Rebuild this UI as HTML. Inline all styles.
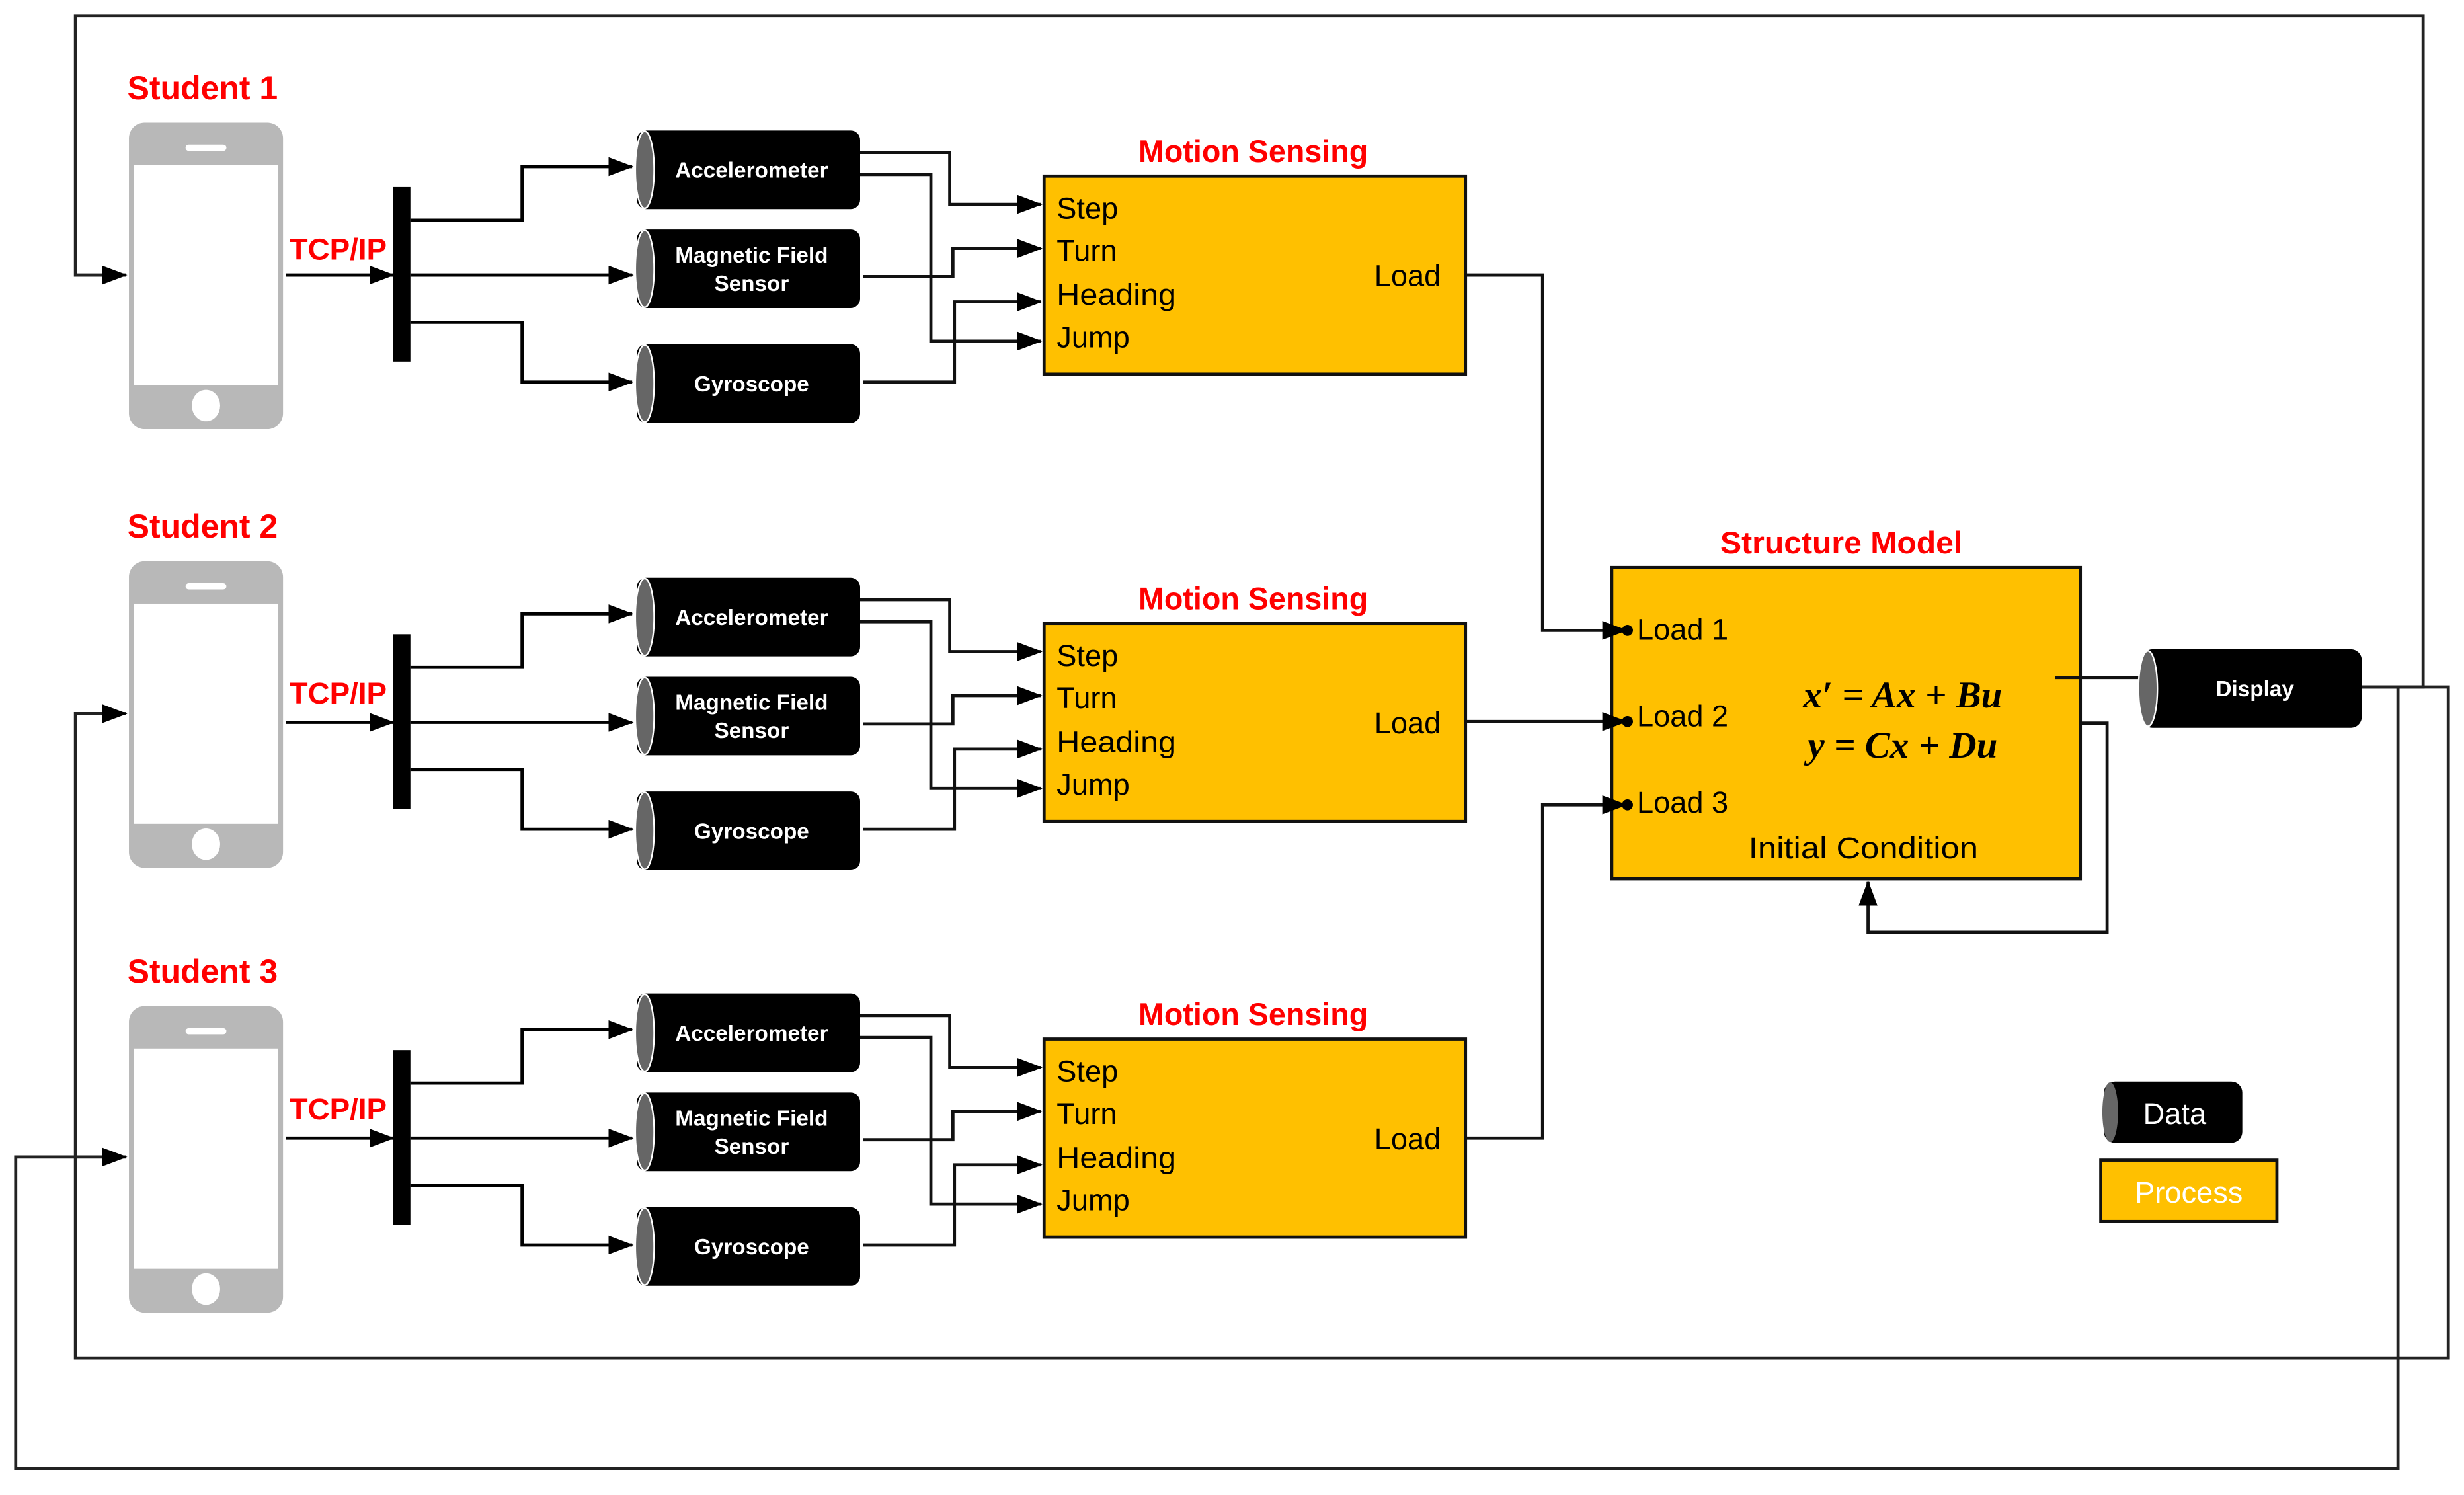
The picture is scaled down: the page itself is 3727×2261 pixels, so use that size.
<!DOCTYPE html>
<html><head><meta charset="utf-8"><style>
html,body{margin:0;padding:0;background:#fff;}
svg{display:block;}
text{font-family:"Liberation Sans",sans-serif;}
</style></head><body>
<svg width="3727" height="2261" viewBox="0 0 1567 951" preserveAspectRatio="none" xmlns="http://www.w3.org/2000/svg">
<defs>
<marker id="ar" markerWidth="16" markerHeight="12" refX="15" refY="6" orient="auto" markerUnits="userSpaceOnUse">
<path d="M0,0 L16,6 L0,12 z" fill="#000"/>
</marker>
<g id="phone">
<rect x="82" y="78" width="98" height="195" rx="10" fill="#b8b8b8"/>
<rect x="85" y="105" width="92" height="140" fill="#fff"/>
<rect x="118" y="92" width="26" height="4" rx="2" fill="#fff"/>
<ellipse cx="131" cy="258" rx="9" ry="10" fill="#fff"/>
</g>
<g id="cyl">
<rect x="405" y="0" width="142" height="50" rx="6" fill="#000"/>
<ellipse cx="410" cy="25" rx="6" ry="24.5" fill="#666" stroke="#fff" stroke-width="1"/>
</g>
</defs>
<g fill="none" stroke="#222" stroke-width="2">
<path d="M1502,437 H1541 V10 H48 V175 H80" marker-end="url(#ar)"/>
<path d="M1502,437 H1557 V864 H48 V454 H80" marker-end="url(#ar)"/>
<path d="M1525,437 V934 H10 V736 H80" marker-end="url(#ar)"/>
</g>

<g id="g1">
<use href="#phone"/>
<text x="81" y="63" font-size="21" font-weight="bold" fill="#f00">Student 1</text>
<text x="184" y="165" font-size="19" font-weight="bold" fill="#f00" textLength="62" lengthAdjust="spacingAndGlyphs">TCP/IP</text>
<rect x="250" y="119" width="11" height="111" fill="#000"/>
<g fill="none" stroke="#000" stroke-width="2">
<path d="M182,175 H250" marker-end="url(#ar)"/>
<path d="M261,140 H332 V106 H402" marker-end="url(#ar)"/>
<path d="M261,175 H402" marker-end="url(#ar)"/>
<path d="M261,205 H332 V243 H402" marker-end="url(#ar)"/>
</g>
</g>
<g transform="translate(0,0)">
<use href="#cyl" y="83"/><use href="#cyl" y="146"/><use href="#cyl" y="219"/>
<text x="478" y="113" font-size="14" font-weight="bold" fill="#fff" text-anchor="middle">Accelerometer</text>
<text x="478" y="167" font-size="14" font-weight="bold" fill="#fff" text-anchor="middle">Magnetic Field</text>
<text x="478" y="185" font-size="14" font-weight="bold" fill="#fff" text-anchor="middle">Sensor</text>
<text x="478" y="249" font-size="14" font-weight="bold" fill="#fff" text-anchor="middle">Gyroscope</text>
<rect x="664" y="112" width="268" height="126" fill="#ffc000" stroke="#111" stroke-width="2"/>
<text x="797" y="103" font-size="20" font-weight="bold" fill="#f00" text-anchor="middle" textLength="146" lengthAdjust="spacingAndGlyphs">Motion Sensing</text>
<g font-size="19" fill="#000">
<text x="672" y="139">Step</text><text x="672" y="166">Turn</text>
<text x="672" y="194" textLength="76" lengthAdjust="spacingAndGlyphs">Heading</text><text x="672" y="221">Jump</text>
<text x="874" y="182">Load</text>
</g>
<g fill="none" stroke="#111" stroke-width="2">
<path d="M547,97 H604 V130 H662" marker-end="url(#ar)"/>
<path d="M547,111 H592 V217 H662" marker-end="url(#ar)"/>
<path d="M549,176 H606 V158 H662" marker-end="url(#ar)"/>
<path d="M549,243 H607 V192 H662" marker-end="url(#ar)"/>
</g>
</g>

<g transform="translate(0,279)">
<use href="#phone"/>
<text x="81" y="63" font-size="21" font-weight="bold" fill="#f00">Student 2</text>
</g>
<g transform="translate(0,284.5)">
<text x="184" y="163" font-size="19" font-weight="bold" fill="#f00" textLength="62" lengthAdjust="spacingAndGlyphs">TCP/IP</text>
<rect x="250" y="119" width="11" height="111" fill="#000"/>
<g fill="none" stroke="#000" stroke-width="2">
<path d="M182,175 H250" marker-end="url(#ar)"/>
<path d="M261,140 H332 V106 H402" marker-end="url(#ar)"/>
<path d="M261,175 H402" marker-end="url(#ar)"/>
<path d="M261,205 H332 V243 H402" marker-end="url(#ar)"/>
</g>
<use href="#cyl" y="83"/><use href="#cyl" y="146"/><use href="#cyl" y="219"/>
<text x="478" y="113" font-size="14" font-weight="bold" fill="#fff" text-anchor="middle">Accelerometer</text>
<text x="478" y="167" font-size="14" font-weight="bold" fill="#fff" text-anchor="middle">Magnetic Field</text>
<text x="478" y="185" font-size="14" font-weight="bold" fill="#fff" text-anchor="middle">Sensor</text>
<text x="478" y="249" font-size="14" font-weight="bold" fill="#fff" text-anchor="middle">Gyroscope</text>
<rect x="664" y="112" width="268" height="126" fill="#ffc000" stroke="#111" stroke-width="2"/>
<text x="797" y="103" font-size="20" font-weight="bold" fill="#f00" text-anchor="middle" textLength="146" lengthAdjust="spacingAndGlyphs">Motion Sensing</text>
<g font-size="19" fill="#000">
<text x="672" y="139">Step</text><text x="672" y="166">Turn</text>
<text x="672" y="194" textLength="76" lengthAdjust="spacingAndGlyphs">Heading</text><text x="672" y="221">Jump</text>
<text x="874" y="182">Load</text>
</g>
<g fill="none" stroke="#111" stroke-width="2">
<path d="M547,97 H604 V130 H662" marker-end="url(#ar)"/>
<path d="M547,111 H592 V217 H662" marker-end="url(#ar)"/>
<path d="M549,176 H606 V158 H662" marker-end="url(#ar)"/>
<path d="M549,243 H607 V192 H662" marker-end="url(#ar)"/>
</g>
</g>

<g transform="translate(0,562)">
<use href="#phone"/>
<text x="81" y="63" font-size="21" font-weight="bold" fill="#f00">Student 3</text>
</g>
<g transform="translate(0,549)">
<text x="184" y="163" font-size="19" font-weight="bold" fill="#f00" textLength="62" lengthAdjust="spacingAndGlyphs">TCP/IP</text>
<rect x="250" y="119" width="11" height="111" fill="#000"/>
<g fill="none" stroke="#000" stroke-width="2">
<path d="M182,175 H250" marker-end="url(#ar)"/>
<path d="M261,140 H332 V106 H402" marker-end="url(#ar)"/>
<path d="M261,175 H402" marker-end="url(#ar)"/>
<path d="M261,205 H332 V243 H402" marker-end="url(#ar)"/>
</g>
<use href="#cyl" y="83"/><use href="#cyl" y="146"/><use href="#cyl" y="219"/>
<text x="478" y="113" font-size="14" font-weight="bold" fill="#fff" text-anchor="middle">Accelerometer</text>
<text x="478" y="167" font-size="14" font-weight="bold" fill="#fff" text-anchor="middle">Magnetic Field</text>
<text x="478" y="185" font-size="14" font-weight="bold" fill="#fff" text-anchor="middle">Sensor</text>
<text x="478" y="249" font-size="14" font-weight="bold" fill="#fff" text-anchor="middle">Gyroscope</text>
<rect x="664" y="112" width="268" height="126" fill="#ffc000" stroke="#111" stroke-width="2"/>
<text x="797" y="103" font-size="20" font-weight="bold" fill="#f00" text-anchor="middle" textLength="146" lengthAdjust="spacingAndGlyphs">Motion Sensing</text>
<g font-size="19" fill="#000">
<text x="672" y="139">Step</text><text x="672" y="166">Turn</text>
<text x="672" y="194" textLength="76" lengthAdjust="spacingAndGlyphs">Heading</text><text x="672" y="221">Jump</text>
<text x="874" y="182">Load</text>
</g>
<g fill="none" stroke="#111" stroke-width="2">
<path d="M547,97 H604 V130 H662" marker-end="url(#ar)"/>
<path d="M547,111 H592 V217 H662" marker-end="url(#ar)"/>
<path d="M549,176 H606 V158 H662" marker-end="url(#ar)"/>
<path d="M549,243 H607 V192 H662" marker-end="url(#ar)"/>
</g>
</g>

<rect x="1025" y="361" width="298" height="198" fill="#ffc000" stroke="#111" stroke-width="2"/>
<text x="1171" y="352" font-size="20" font-weight="bold" fill="#f00" text-anchor="middle" textLength="154" lengthAdjust="spacingAndGlyphs">Structure Model</text>
<g fill="none" stroke="#111" stroke-width="2">
<path d="M932,175 H981 V401 H1034" marker-end="url(#ar)"/>
<path d="M932,459 H1034" marker-end="url(#ar)"/>
<path d="M932,724 H981 V512 H1034" marker-end="url(#ar)"/>
<path d="M1307,431 H1362"/>
<path d="M1323,460 H1340 V593 H1188 V561" marker-end="url(#ar)"/>
</g>
<circle cx="1035" cy="401" r="3.5" fill="#000"/>
<circle cx="1035" cy="459" r="3.5" fill="#000"/>
<circle cx="1035" cy="512" r="3.5" fill="#000"/>
<g font-size="19" fill="#000">
<text x="1041" y="407">Load 1</text>
<text x="1041" y="462">Load 2</text>
<text x="1041" y="517">Load 3</text>
<text x="1185" y="546" text-anchor="middle" textLength="146" lengthAdjust="spacingAndGlyphs">Initial Condition</text>
</g>
<g font-size="24" font-weight="bold" font-style="italic" fill="#000">
<text x="1210" y="450" text-anchor="middle" style="font-family:'Liberation Serif',serif">x′ = Ax + Bu</text>
<text x="1210" y="482" text-anchor="middle" style="font-family:'Liberation Serif',serif">y = Cx + Du</text>
</g>

<rect x="1362" y="413" width="140" height="50" rx="7" fill="#000"/>
<ellipse cx="1366" cy="438" rx="6" ry="24" fill="#666" stroke="#fff" stroke-width="1"/>
<text x="1434" y="443" font-size="14" font-weight="bold" fill="#fff" text-anchor="middle">Display</text>

<rect x="1338" y="688" width="88" height="39" rx="7" fill="#000"/>
<ellipse cx="1342" cy="707.5" rx="5" ry="19" fill="#666"/>
<text x="1383" y="715" font-size="19" fill="#fff" text-anchor="middle">Data</text>
<rect x="1336" y="738" width="112" height="39" fill="#ffc000" stroke="#111" stroke-width="2"/>
<text x="1392" y="765" font-size="19" fill="#fff" text-anchor="middle">Process</text>
</svg>
</body></html>
